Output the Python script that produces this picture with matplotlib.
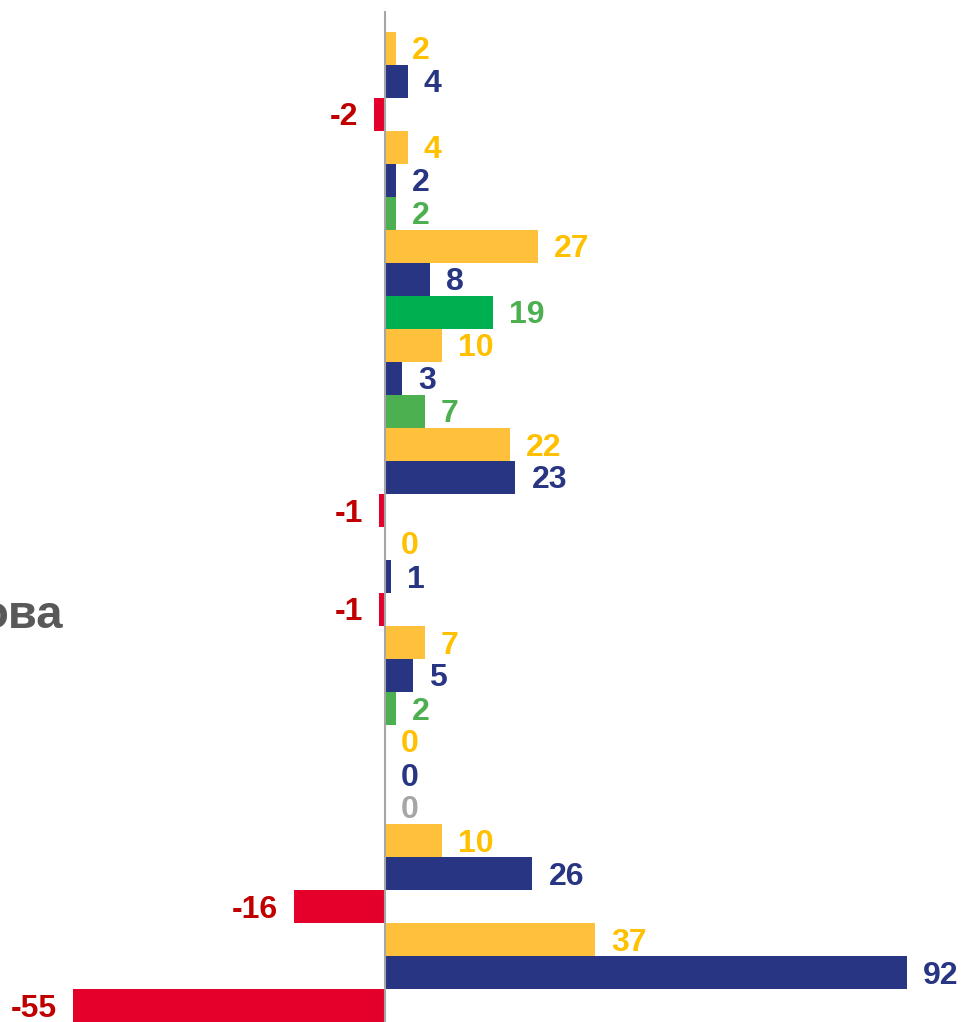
import matplotlib
matplotlib.use('Agg')
import matplotlib.pyplot as plt

# values per group, top to bottom
plan_vals = [2, 4, 27, 10, 22, 0, 7, 0, 10, 37]
fact_vals = [4, 2, 8, 3, 23, 1, 5, 0, 26, 92]
diff_vals = [-2, 2, 19, 7, -1, -1, 2, 0, -16, -55]

YELLOW, YELLOW_TXT = '#FFC13B', '#FFC000'
NAVY = '#283583'
RED, RED_TXT = '#E4002B', '#C00000'
GREEN, GREEN2 = '#4CAF50', '#00B050'
GRAY = '#A6A6A6'

plt.rcParams['font.family'] = ['Liberation Sans', 'DejaVu Sans']

fig = plt.figure(figsize=(9.63, 10.22), dpi=100)
ax = fig.add_axes([0, 0, 1, 1 - 11 / 1022])

vals, bar_cols, txt_cols = [], [], []
for i in range(len(plan_vals)):
    vals += [plan_vals[i], fact_vals[i], diff_vals[i]]
    bar_cols += [YELLOW, NAVY]
    txt_cols += [YELLOW_TXT, NAVY]
    d = diff_vals[i]
    if d < 0:
        bar_cols.append(RED); txt_cols.append(RED_TXT)
    elif d > 0:
        bar_cols.append(GREEN2 if d == 19 else GREEN); txt_cols.append(GREEN)
    else:
        bar_cols.append(GRAY); txt_cols.append(GRAY)

pos = list(range(len(vals)))
ax.barh(pos, vals, height=1.0, color=bar_cols, zorder=2)

for y, v, c in zip(pos, vals, txt_cols):
    if v < 0:
        ax.annotate(str(v), (v, y), xytext=(-16, -3), textcoords='offset pixels',
                    ha='right', va='center', fontsize=23, fontweight='bold', color=c)
    else:
        ax.annotate(str(v), (v, y), xytext=(16, -3), textcoords='offset pixels',
                    ha='left', va='center', fontsize=23, fontweight='bold', color=c)

ax.axvline(0, color=GRAY, lw=1.5, zorder=3)
ax.set_xlim(-385 / 5.67, 578 / 5.67)
ax.set_ylim(len(vals) - 0.5, -0.5 - 21 / 33)
ax.axis('off')

# category label, cut off at the left edge as in the source
fig.text(63 / 963, 1 - 628 / 1022, 'ова', ha='right', va='baseline',
         fontsize=34, fontweight='bold', color='#595959')

fig.savefig('out.png', dpi=100)
